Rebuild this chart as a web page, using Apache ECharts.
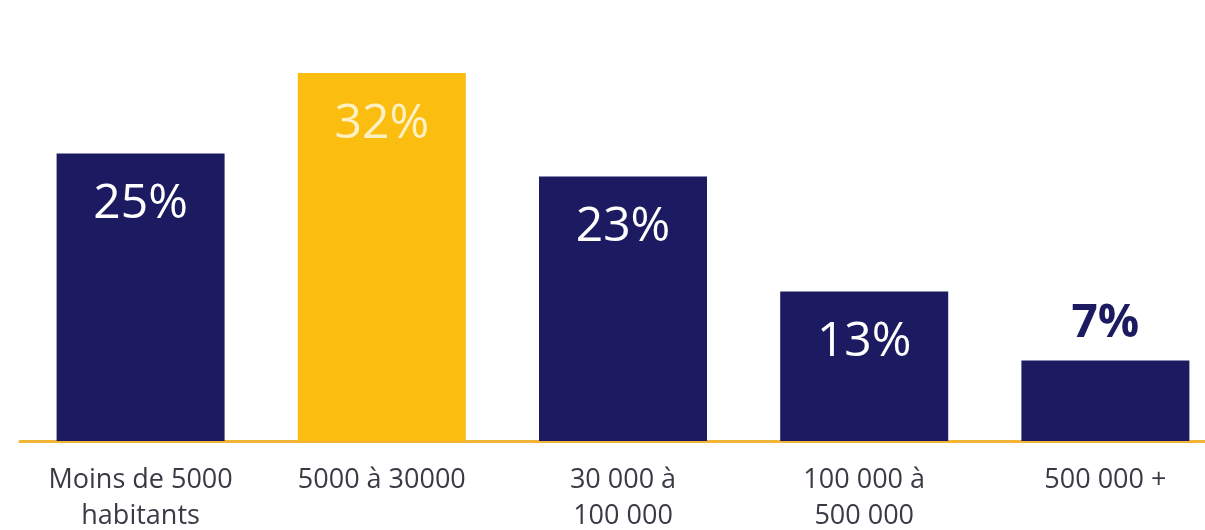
<!DOCTYPE html>
<html>
<head>
<meta charset="utf-8">
<script src="https://cdn.jsdelivr.net/npm/echarts@6/dist/echarts.min.js"></script>
<style>
  html, body { margin: 0; padding: 0; background: #ffffff; }
  #chart { width: 1205px; height: 530px; }
</style>
</head>
<body>
<div id="chart"></div>
<script>
// catégories (taille de commune) et parts en %
var categories = [
  "Moins de 5000\nhabitants",
  "5000 à 30000",
  "30 000 à\n100 000",
  "100 000 à\n500 000",
  "500 000 +"
];
var values = [25, 32, 23, 13, 7];
var highlightIndex = 1; // barre jaune

var navy = "#1c1b62";
var yellow = "#fbbd0f";

var chart = echarts.init(document.getElementById("chart"));

var barData = values.map(function (v, i) {
  var item = { value: v, itemStyle: { color: i === highlightIndex ? yellow : navy } };
  if (v < 10) {
    // petite barre : étiquette au-dessus, en gras
    item.label = {
      position: "top",
      distance: 14,
      color: navy,
      fontWeight: "bold",
      fontSize: 46
    };
  }
  if (i === highlightIndex) {
    item.label = { color: "#fdf1c4" };
  }
  return item;
});

var options = {
  animation: false,
  grid: {
    left: 20,
    width: 1206,
    top: 27,
    bottom: 89,
    outerBoundsMode: "none"
  },
  xAxis: {
    type: "category",
    data: categories,
    axisLine: {
      lineStyle: { color: "#f2b437", width: 3 }
    },
    axisTick: { show: false },
    axisLabel: {
      interval: 0,
      color: "#3a3a45",
      fontFamily: "Open Sans",
      fontSize: 27,
      lineHeight: 36,
      margin: 21
    }
  },
  yAxis: {
    type: "value",
    min: 0,
    max: 36,
    show: false,
    splitLine: { show: false }
  },
  series: [
    {
      type: "bar",
      data: barData,
      barWidth: 168,
      label: {
        show: true,
        position: "insideTop",
        distance: 27,
        formatter: "{c}%",
        color: "#ffffff",
        fontFamily: "Open Sans",
        fontSize: 48
      }
    }
  ]
};

chart.setOption(options);
</script>
</body>
</html>
